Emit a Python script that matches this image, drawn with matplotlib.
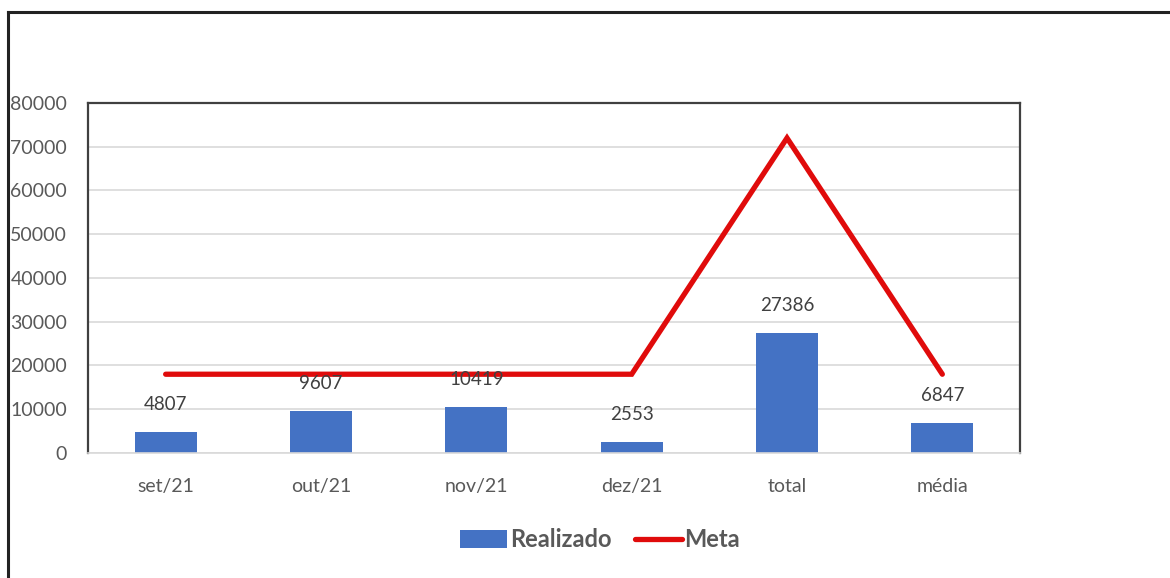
import numpy as np
import matplotlib
matplotlib.use('Agg')
import matplotlib.pyplot as plt
from matplotlib.lines import Line2D
from matplotlib.patches import Patch

categorias = ['set/21', 'out/21', 'nov/21', 'dez/21', 'total', 'média']
realizado = [4807, 9607, 10419, 2553, 27386, 6847]
meta = [18000, 18000, 18000, 18000, 72000, 18000]

plt.rcParams['font.family'] = ['Lato', 'DejaVu Sans']

AZUL = '#4472C4'
VERMELHO = '#E00B0B'
CINZA_TXT = '#595959'

fig = plt.figure(figsize=(11.7, 5.78), dpi=100)
ax = fig.add_axes([0.0752, 0.2163, 0.7966, 0.6055])

x = np.arange(len(categorias))
ax.bar(x, realizado, width=0.4, color=AZUL, zorder=2)
ax.plot(x, meta, color=VERMELHO, lw=3.8, solid_capstyle='round',
        solid_joinstyle='miter', zorder=3)

for xi, v in zip(x, realizado):
    ax.annotate(str(v), (xi, v), xytext=(0, 20), textcoords='offset points',
                ha='center', va='center', fontsize=13.5, color='#404040', zorder=4)

ax.set_xlim(-0.5, len(categorias) - 0.5)
ax.set_ylim(0, 80000)
ax.set_yticks(np.arange(0, 80001, 10000))
ax.set_xticks(x)
ax.set_xticklabels(categorias)
ax.tick_params(axis='y', length=0, pad=15, labelsize=14, labelcolor=CINZA_TXT)
ax.tick_params(axis='x', length=0, pad=18, labelsize=14, labelcolor=CINZA_TXT)
ax.yaxis.grid(True, color='#D9D9D9', lw=1.2, zorder=0)
ax.set_axisbelow(True)

for lado in ['left', 'top', 'right']:
    ax.spines[lado].set_color('#404040')
    ax.spines[lado].set_linewidth(1.6)
ax.spines['bottom'].set_color('#D9D9D9')
ax.spines['bottom'].set_linewidth(1.2)

handles = [Patch(facecolor=AZUL, edgecolor='none'),
           Line2D([0], [0], color=VERMELHO, lw=3.8, solid_capstyle='round')]
leg = fig.legend(handles, ['Realizado', 'Meta'], loc='center',
                 bbox_to_anchor=(0.513, 0.066), ncol=2, frameon=False,
                 handlelength=2.0, handleheight=0.8, handletextpad=0.1,
                 columnspacing=1.0, prop={'size': 17, 'weight': 'bold'})
for t in leg.get_texts():
    t.set_color(CINZA_TXT)

# moldura da figura (so topo e esquerda)
fig.add_artist(Line2D([0.0068, 1.0], [0.979, 0.979], color='#222222', lw=2.2,
                      transform=fig.transFigure))
fig.add_artist(Line2D([0.0068, 0.0068], [0.0, 0.979], color='#222222', lw=2.2,
                      transform=fig.transFigure))

fig.savefig('out.png', dpi=100)
